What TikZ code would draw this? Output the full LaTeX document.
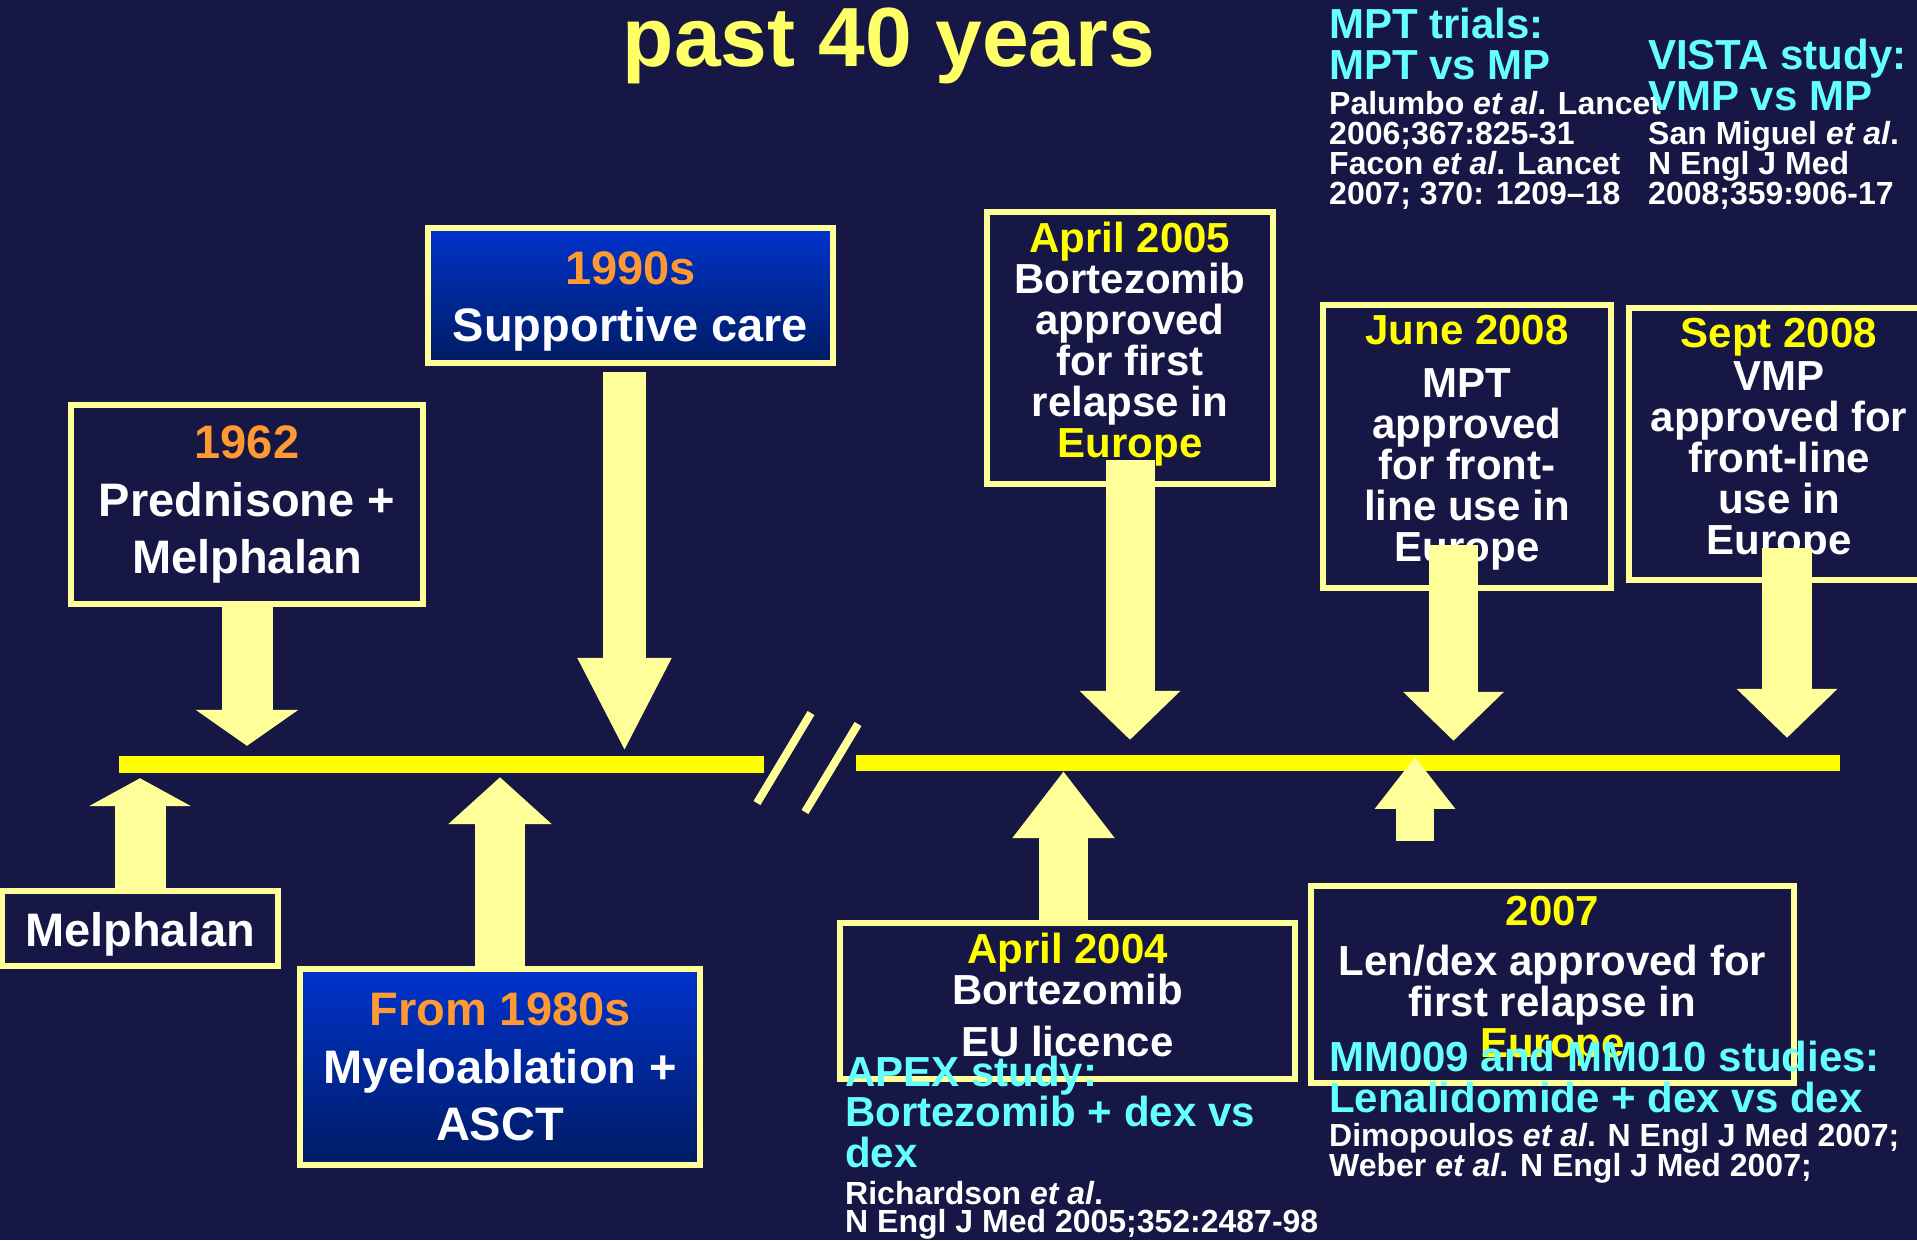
\documentclass[tikz,border=0pt]{standalone}
\usepackage{fontspec}
\setmainfont{Liberation Sans}
\usetikzlibrary{arrows.meta,positioning}

\definecolor{slide}{RGB}{23,23,69}
\definecolor{pale}{RGB}{255,255,153}
\definecolor{bar}{RGB}{255,255,0}
\definecolor{amber}{RGB}{255,153,51}
\definecolor{lemon}{RGB}{255,255,0}
\definecolor{headline}{RGB}{255,255,102}
\definecolor{aqua}{RGB}{102,255,255}
\definecolor{deepblue}{RGB}{0,51,204}
\definecolor{darkblue}{RGB}{0,28,100}

% invisible struts to nudge the text block inside a box
\newcommand{\padtop}[1]{\rule{0pt}{#1}}
\newcommand{\padbot}[1]{\rule[-#1]{0pt}{0pt}}

\tikzset{
    event/.style={
        draw=pale,
        line width=6pt,
        fill=slide,
        inner sep=0pt,
        align=center,
        text=white,
        font=\bfseries\fontsize{42}{41}\selectfont
    },
    bigevent/.style={
        event,
        font=\bfseries\fontsize{47}{57.5}\selectfont
    },
    shaded/.style={
        bigevent,
        top color=deepblue,
        bottom color=darkblue
    },
    axis/.style={fill=bar, inner sep=0pt},
    pointer/.style n args={3}{
        draw=pale,
        line width=#1,
        -{Triangle[width=#2,length=#3]}
    },
    study/.style={
        anchor=base west,
        align=left,
        inner sep=0pt,
        text=aqua,
        font=\bfseries\fontsize{42}{40.5}\selectfont
    },
    cite/.style={
        anchor=base west,
        align=left,
        inner sep=0pt,
        text=white,
        font=\bfseries\fontsize{32}{30}\selectfont
    }
}

\begin{document}
\begin{tikzpicture}[x=1pt,y=-1pt]
  \fill[slide] (0,0) rectangle (1917,1240);
  \useasboundingbox (0,0) rectangle (1917,1240);

  \node[anchor=base, text=headline, font=\bfseries\fontsize{84}{84}\selectfont] (title) at (889,66) {past 40 years};

  % time axis, broken between the 1990s and 2004
  \node[axis, minimum width=645pt, minimum height=17pt] (axisL) at (441.5,764.5) {};
  \node[axis, minimum width=984pt, minimum height=16pt] (axisR) at (1348,763) {};
  \draw[pale, line width=8pt] (757,803) -- (811,713);
  \draw[pale, line width=8pt] (805,812) -- (858,724);

  % milestones
  \node[bigevent, minimum width=352pt, minimum height=199pt] (pm) at (247,504.5)
    {\textcolor{amber}{1962}\\Prednisone +\\Melphalan};
  \node[shaded, minimum width=405pt, minimum height=135pt] (care) at (630.5,295.5)
    {\padtop{45pt}\textcolor{amber}{1990s}\\Supportive care};
  \node[bigevent, minimum width=276pt, minimum height=75pt] (mel) at (140,928.5) {\padtop{45pt}Melphalan};
  \node[shaded, minimum width=400pt, minimum height=196pt] (asct) at (500,1067)
    {\textcolor{amber}{From 1980s}\\Myeloablation +\\ASCT};
  \node[event, minimum width=286pt, minimum height=272pt] (bz05) at (1130,348)
    {\textcolor{lemon}{April 2005}\\Bortezomib\\approved\\for first\\relapse in\\\textcolor{lemon}{Europe}\padbot{17pt}};
  \node[event, minimum width=288pt, minimum height=283pt] (mpt08) at (1467,446.5)
    {\textcolor{lemon}{June 2008}\\[12pt]MPT\\approved\\for front-\\line use in\\Europe\padbot{16pt}};
  \node[event, minimum width=300pt, minimum height=272pt] (vmp08) at (1779,444)
    {\textcolor{lemon}{Sept 2008}\\[2pt]VMP\\approved for\\front-line\\use in\\Europe\padbot{16pt}};
  \node[event, minimum width=455pt, minimum height=156pt] (bz04) at (1067.5,1001)
    {\textcolor{lemon}{April 2004}\\Bortezomib\\[11pt]EU licence\padbot{12pt}};
  \node[event, minimum width=483pt, minimum height=197pt] (len07) at (1552.5,984.5)
    {\textcolor{lemon}{2007}\\[9pt]Len/dex approved for\\first relapse in\\\textcolor{lemon}{Europe}\padbot{16pt}};
  \coordinate (lenarr) at ([xshift=-137.5pt,yshift=42pt]len07.north);

  % block arrows onto the axis
  \draw[pointer={51pt}{101pt}{36pt}, shorten >=10pt] (pm.south) -- (pm.south |- axisL.north);
  \draw[pointer={43pt}{87pt}{94pt}, shorten <=6pt, shorten >=4pt]
    ([xshift=-6pt]care.south) -- ([xshift=-6pt]care.south |- axisL.north);
  \draw[pointer={51pt}{101pt}{28pt}, shorten >=5pt] (mel.north) -- (mel.north |- axisL.south);
  \draw[pointer={50pt}{101pt}{47pt}, shorten >=4pt] (asct.north) -- (asct.north |- axisL.south);
  \draw[pointer={49pt}{98pt}{49pt}, shorten >=15pt]
    ([yshift=27pt]bz05.south) -- (bz05.south |- axisR.north);
  \draw[pointer={49pt}{98pt}{49pt}, shorten >=14pt]
    ([xshift=-13.5pt,yshift=46pt]mpt08.south) -- ([xshift=-13.5pt]mpt08.south |- axisR.north);
  \draw[pointer={50pt}{98pt}{49pt}, shorten >=17pt]
    ([xshift=8pt,yshift=35pt]vmp08.south) -- ([xshift=8pt]vmp08.south |- axisR.north);
  \draw[pointer={49pt}{98pt}{67pt}]
    ([xshift=-4pt]bz04.north) -- ([xshift=-4pt]bz04.north |- axisR.south);
  \draw[pointer={38pt}{77pt}{52pt}, shorten >=2pt] (lenarr) -- (lenarr |- axisR.north);

  % trials and references (anchored on their last line)
  \node[study] (mpt) at (1329,79) {MPT trials:\\MPT vs MP};
  \node[cite] (mptref) at (1329,204)
    {Palumbo \textit{et al}. Lancet\\2006;367:825-31\\Facon \textit{et al}. Lancet\\2007; 370: 1209–18};
  \node[study] (vista) at (1648,110) {VISTA study:\\VMP vs MP};
  \node[cite] (vistaref) at (1648,204)
    {San Miguel \textit{et al}.\\N Engl J Med\\2008;359:906-17};
  \node[study] (apex) at (845,1167) {APEX study:\\Bortezomib + dex vs\\dex};
  \node[cite, font=\bfseries\fontsize{32}{28}\selectfont] (apexref) at (845,1232)
    {Richardson \textit{et al}.\\N Engl J Med 2005;352:2487-98};
  \node[study] (mm) at (1329,1112) {MM009 and MM010 studies:\\Lenalidomide + dex vs dex};
  \node[cite] (mmref) at (1329,1176)
    {Dimopoulos \textit{et al}. N Engl J Med 2007;\\Weber \textit{et al}. N Engl J Med 2007;};
\end{tikzpicture}
\end{document}
